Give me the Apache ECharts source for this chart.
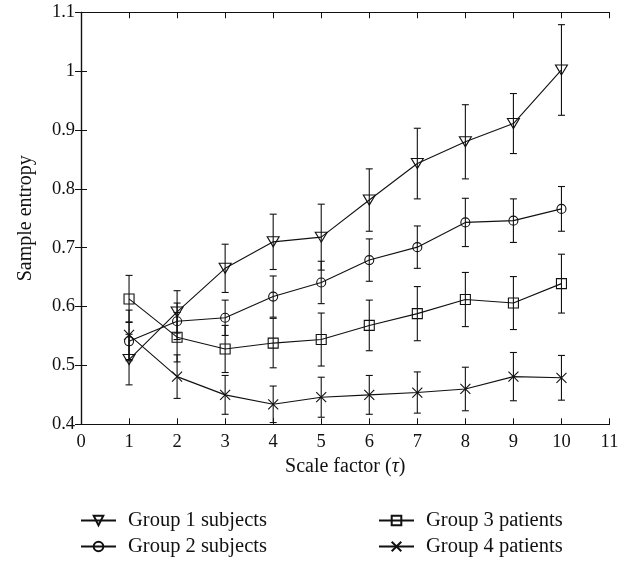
<!DOCTYPE html>
<html>
<head>
<meta charset="utf-8">
<script src="https://cdn.jsdelivr.net/npm/echarts@6/dist/echarts.min.js"></script>
<style>html,body{margin:0;padding:0;background:#fff}#c{width:630px;height:562px}</style>
</head>
<body>
<div id="c"></div>
<script>
const scales = [1, 2, 3, 4, 5, 6, 7, 8, 9, 10];
const g1 = [0.510, 0.591, 0.665, 0.710, 0.718, 0.781, 0.843, 0.880, 0.911, 1.002];
const g1Err = [0.043, 0.036, 0.041, 0.047, 0.056, 0.053, 0.060, 0.063, 0.051, 0.077];
const g2 = [0.541, 0.575, 0.581, 0.617, 0.641, 0.679, 0.701, 0.743, 0.746, 0.766];
const g2Err = [0.033, 0.031, 0.030, 0.035, 0.036, 0.036, 0.036, 0.041, 0.037, 0.038];
const g3 = [0.613, 0.548, 0.528, 0.538, 0.544, 0.568, 0.588, 0.612, 0.606, 0.639];
const g3Err = [0.040, 0.042, 0.040, 0.042, 0.045, 0.043, 0.046, 0.046, 0.045, 0.050];
const g4 = [0.552, 0.481, 0.450, 0.434, 0.446, 0.450, 0.454, 0.460, 0.481, 0.479];
const g4Err = [0.042, 0.037, 0.033, 0.031, 0.034, 0.033, 0.035, 0.037, 0.041, 0.038];
const names = ['Group 1 subjects', 'Group 2 subjects', 'Group 3 patients', 'Group 4 patients'];

const FONT = 'Liberation Serif';
const INK = '#111';

function lineData(vals) { return scales.map((x, i) => [x, vals[i]]); }
function errData(vals, errs) { return scales.map((x, i) => [x, vals[i] - errs[i], vals[i] + errs[i]]); }

function errSeries(vals, errs) {
  return {
    type: 'custom',
    data: errData(vals, errs),
    silent: true,
    z: 1,
    renderItem: function (params, api) {
      const x = api.value(0);
      const lo = api.coord([x, api.value(1)]);
      const hi = api.coord([x, api.value(2)]);
      const w = 3.5;
      const st = { stroke: INK, lineWidth: 1.1 };
      return {
        type: 'group',
        children: [
          { type: 'line', shape: { x1: lo[0], y1: lo[1], x2: hi[0], y2: hi[1] }, style: st },
          { type: 'line', shape: { x1: lo[0] - w, y1: lo[1], x2: lo[0] + w, y2: lo[1] }, style: st },
          { type: 'line', shape: { x1: hi[0] - w, y1: hi[1], x2: hi[0] + w, y2: hi[1] }, style: st }
        ]
      };
    },
    encode: { x: 0, y: [1, 2] }
  };
}

function lineSeries(name, vals, symbol, size, rotate) {
  return {
    name: name,
    type: 'line',
    data: lineData(vals),
    symbol: symbol,
    symbolSize: size,
    symbolRotate: rotate || 0,
    showAllSymbol: true,
    z: 3,
    lineStyle: { color: INK, width: 1.1 },
    itemStyle: { color: 'rgba(0,0,0,0)', borderColor: INK, borderWidth: 1.1 },
    emphasis: { disabled: true }
  };
}

const legendText = { fontFamily: FONT, fontSize: 20.5, color: INK, padding: [0, 0, 0, 7] };
function legendAt(name, left, top) {
  return { data: [name], left: left, top: top, padding: 0, itemWidth: 35, itemHeight: 12, textStyle: legendText, selectedMode: false };
}

const option = {
  animation: false,
  backgroundColor: '#fff',
  grid: { left: 81, right: 20.5, top: 12.3, bottom: 137.7 },
  legend: [
    legendAt(names[0], 80, 510),
    legendAt(names[1], 80, 536),
    legendAt(names[2], 378, 510),
    legendAt(names[3], 378, 536)
  ],
  xAxis: [
    {
      type: 'value', min: 0, max: 11, interval: 1,
      name: 'Scale factor ({i|τ})', nameLocation: 'middle', nameGap: 32,
      nameTextStyle: { fontFamily: FONT, fontSize: 20, color: INK, rich: { i: { fontFamily: FONT, fontSize: 20, fontStyle: 'italic', color: INK } } },
      axisLine: { lineStyle: { color: INK, width: 1.2 } },
      axisTick: { inside: true, length: 6, lineStyle: { color: INK } },
      axisLabel: { fontFamily: FONT, fontSize: 18.5, color: INK, margin: 8 },
      splitLine: { show: false }
    },
    {
      type: 'value', min: 0, max: 11, interval: 1, position: 'top',
      axisLine: { show: true, lineStyle: { color: INK, width: 1.2 } },
      axisTick: { inside: true, length: 6, lineStyle: { color: INK } },
      axisLabel: { show: false }, splitLine: { show: false }
    }
  ],
  yAxis: [
    {
      type: 'value', min: 0.4, max: 1.1, interval: 0.1,
      name: 'Sample entropy', nameLocation: 'middle', nameGap: 45,
      nameTextStyle: { fontFamily: FONT, fontSize: 20, color: INK },
      axisLine: { show: true, lineStyle: { color: INK, width: 1.2 } },
      axisTick: { inside: true, length: 6, lineStyle: { color: INK } },
      axisLabel: { fontFamily: FONT, fontSize: 18.5, color: INK, margin: 6, formatter: v => String(Math.round(v * 10) / 10) },
      splitLine: { show: false }
    },
    {
      type: 'value', min: 0.4, max: 1.1, interval: 0.1, position: 'right',
      axisLine: { show: true, lineStyle: { color: INK, width: 1.2 } },
      axisTick: { inside: true, length: 6, lineStyle: { color: INK } },
      axisLabel: { show: false }, splitLine: { show: false }
    }
  ],
  series: [
    errSeries(g1, g1Err), errSeries(g2, g2Err), errSeries(g3, g3Err), errSeries(g4, g4Err),
    lineSeries(names[0], g1, 'triangle', [12, 10], 180),
    lineSeries(names[1], g2, 'circle', 9),
    lineSeries(names[2], g3, 'rect', 10),
    lineSeries(names[3], g4, 'path://M0,0L10,10M10,0L0,10', 10)
  ]
};

const chart = echarts.init(document.getElementById('c'), null, { renderer: 'canvas' });
chart.setOption(option);
</script>
</body>
</html>
